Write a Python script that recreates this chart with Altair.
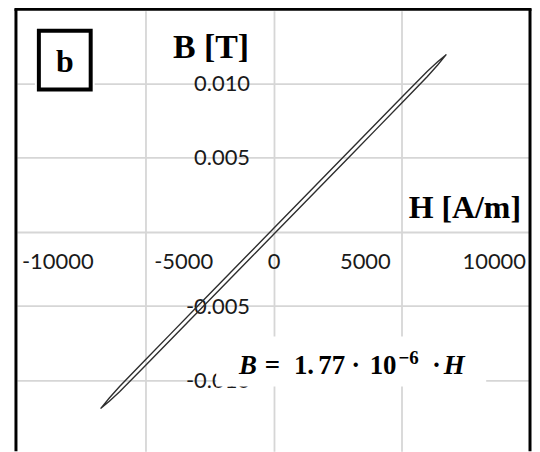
import altair as alt
import pandas as pd

# ---------------- data ----------------
# upper (descending) branch of the loop
H_upper = [6740, 6400, 6000, 5000, 4000, 3000, 2000, 1000, 0,
           -1000, -2000, -3000, -4000, -5000, -6000, -6400, -6740]
B_upper = [0.01193, 0.01143, 0.01080, 0.00905, 0.00728, 0.00551, 0.00374, 0.00197, 0.00020,
           -0.00157, -0.00334, -0.00511, -0.00688, -0.00865, -0.01044, -0.01122, -0.01193]
# lower (ascending) branch of the loop
H_lower = [-6740, -6400, -6000, -5000, -4000, -3000, -2000, -1000, 0,
           1000, 2000, 3000, 4000, 5000, 6000, 6400, 6740]
B_lower = [-0.01193, -0.01143, -0.01080, -0.00905, -0.00728, -0.00551, -0.00374, -0.00197, -0.00020,
           0.00157, 0.00334, 0.00511, 0.00688, 0.00865, 0.01044, 0.01122, 0.01193]

x_ticks = [-10000, -5000, 0, 5000, 10000]
x_tick_labels = ["-10000", "-5000", "0", "5000", "10000"]
y_ticks = [0.010, 0.005, -0.005, -0.010]
y_tick_labels = ["0.010", "0.005", "-0.005", "-0.010"]
x_grid = [-5000, 0, 5000]
y_grid = [-0.010, -0.005, 0.0, 0.005, 0.010]

x_title = "H [A/m]"
y_title = "B [T]"
panel_tag = "b"

# ---------------- layout ----------------
X_MIN, X_MAX = -10000, 10000
Y_MAX = 0.014866
W, H = 515, 442
Y_MIN = Y_MAX - H / 14900.0

xs = alt.Scale(domain=[X_MIN, X_MAX], nice=False, zero=False)
ys = alt.Scale(domain=[Y_MIN, Y_MAX], nice=False, zero=False)
AX_X = alt.Axis(values=x_grid, grid=True, labels=False, ticks=False, domain=False, title=None,
                gridColor="#d6d6d6", gridWidth=1.8)
AX_Y = alt.Axis(values=y_grid, grid=True, labels=False, ticks=False, domain=False, title=None,
                gridColor="#d6d6d6", gridWidth=1.8)


def X(f):
    return alt.X(f"{f}:Q", scale=xs, axis=AX_X)


def Y(f):
    return alt.Y(f"{f}:Q", scale=ys, axis=AX_Y)


LABEL_FONT = "Lato"
SERIF = "Liberation Serif"

# loop
loop_df = pd.DataFrame({
    "H": H_upper + H_lower,
    "B": B_upper + B_lower,
    "i": list(range(len(H_upper) + len(H_lower))),
})
loop = alt.Chart(loop_df).mark_line(color="#2e2e2e", strokeWidth=1.4).encode(
    x=X("H"), y=Y("B"), order="i:Q")

# x tick labels (one layer each, offsets as in the picture)
xl_df = pd.DataFrame({"v": x_ticks, "t": x_tick_labels, "y0": [0.0] * len(x_ticks)})
x_label_style = {
    -10000: dict(align="left", dx=5),
    -5000: dict(align="left", dx=9),
    0: dict(align="center", dx=0.5),
    5000: dict(align="right", dx=-11),
    10000: dict(align="right", dx=-4),
}
x_label_layers = []
for v in x_ticks:
    st = x_label_style[v]
    x_label_layers.append(
        alt.Chart(xl_df).transform_filter(alt.datum.v == v).mark_text(
            font=LABEL_FONT, fontSize=22, color="#1a1a1a", baseline="alphabetic", dy=38, **st
        ).encode(x=X("v"), y=Y("y0"), text="t:N")
    )

# y tick labels
yl_df = pd.DataFrame({"v": y_ticks, "t": y_tick_labels, "x0": [0.0] * len(y_ticks)})
y_labels = alt.Chart(yl_df).mark_text(
    font=LABEL_FONT, fontSize=22, color="#1a1a1a", align="right", baseline="middle", dx=-23.5, dy=1
).encode(x=X("x0"), y=Y("v"), text="t:N")

# equation box and text
eq_box_df = pd.DataFrame({"x1": [-2233], "x2": [8291], "y1": [-0.007081], "y2": [-0.010436]})
eq_box = alt.Chart(eq_box_df).mark_rect(fill="white").encode(
    x=X("x1"), x2="x2:Q", y=Y("y1"), y2="y2:Q")

EQ_BASE = -0.009631
SUP_BASE = -0.008960
eq_parts = [
    # text, H anchor, B baseline, align, style, size
    ("B", -990, EQ_BASE, "center", "italic", 27),
    ("=", -39, EQ_BASE, "center", "normal", 27),
    ("1.", 796, EQ_BASE, "left", "normal", 27),
    ("77", 2272, EQ_BASE, "center", "normal", 27),
    ("·", 3204, EQ_BASE, "center", "normal", 27),
    ("10", 4272, EQ_BASE, "center", "normal", 27),
    ("−6", 4874, SUP_BASE, "left", "normal", 19),
    ("·", 6350, EQ_BASE, "center", "normal", 27),
    ("H", 7049, EQ_BASE, "center", "italic", 27),
]
eq_layers = []
for txt, hx, by, al, sty, sz in eq_parts:
    d = pd.DataFrame({"x": [hx], "y": [by], "t": [txt]})
    eq_layers.append(
        alt.Chart(d).mark_text(font=SERIF, fontWeight="bold", fontStyle=sty, fontSize=sz,
                               color="black", align=al, baseline="alphabetic").encode(
            x=X("x"), y=Y("y"), text="t:N")
    )

# axis titles
yt_df = pd.DataFrame({"x": [-951], "y": [0.011711], "t": [y_title]})
y_tit = alt.Chart(yt_df).mark_text(font=SERIF, fontWeight="bold", fontSize=34, color="black",
                                   align="right", baseline="alphabetic").encode(
    x=X("x"), y=Y("y"), text="t:N")
xt_df = pd.DataFrame({"x": [9650], "y": [0.000906], "t": [x_title]})
x_tit = alt.Chart(xt_df).mark_text(font=SERIF, fontWeight="bold", fontSize=32, color="black",
                                   align="right", baseline="alphabetic").encode(
    x=X("x"), y=Y("y"), text="t:N")

# panel tag box
tag_df = pd.DataFrame({"x1": [-9146], "x2": [-7126], "y1": [0.013523], "y2": [0.009564]})
tag_halo = alt.Chart(tag_df).mark_rect(fill="white", stroke="white", strokeWidth=8).encode(
    x=X("x1"), x2="x2:Q", y=Y("y1"), y2="y2:Q")
tag_box = alt.Chart(tag_df).mark_rect(fill="white", stroke="black", strokeWidth=4).encode(
    x=X("x1"), x2="x2:Q", y=Y("y1"), y2="y2:Q")
tag_txt_df = pd.DataFrame({"x": [-8136], "y": [0.010772], "t": [panel_tag]})
tag_txt = alt.Chart(tag_txt_df).mark_text(font=SERIF, fontWeight="bold", fontSize=32, color="black",
                                          align="center", baseline="alphabetic").encode(
    x=X("x"), y=Y("y"), text="t:N")

# outer frame (left, right, top)
FRAME_L, FRAME_R, FRAME_T = -10039, 10000, 0.014966
vframe_df = pd.DataFrame({"x": [FRAME_L, FRAME_R], "y1": [Y_MIN, Y_MIN], "y2": [FRAME_T, FRAME_T]})
vframe = alt.Chart(vframe_df).mark_rule(color="black", strokeWidth=3).encode(
    x=X("x"), y=Y("y1"), y2="y2:Q")
hframe_df = pd.DataFrame({"x1": [FRAME_L - 60], "x2": [FRAME_R + 60], "y": [FRAME_T]})
hframe = alt.Chart(hframe_df).mark_rule(color="black", strokeWidth=3).encode(
    x=X("x1"), x2="x2:Q", y=Y("y"))

chart = alt.layer(
    y_labels, *x_label_layers, loop, eq_box, *eq_layers, y_tit, x_tit,
    tag_halo, tag_box, tag_txt, vframe, hframe
).properties(
    width=W, height=H,
    padding={"left": 9, "top": 2, "right": 2, "bottom": 0},
    autosize=alt.AutoSizeParams(type="none"),
    background="white",
).configure_view(strokeWidth=0)

chart.save("out.html", embed_options={"renderer": "svg", "actions": False})
